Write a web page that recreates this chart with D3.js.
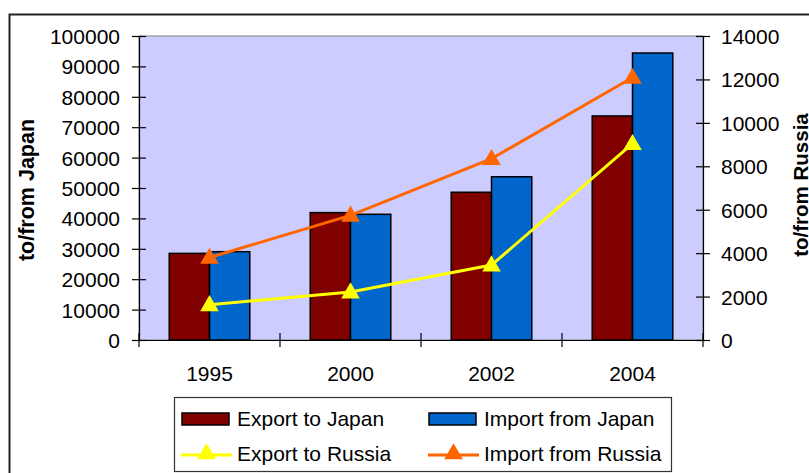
<!DOCTYPE html>
<html>
<head>
<meta charset="utf-8">
<script src="https://cdn.jsdelivr.net/npm/d3@7"></script>
<style>
  html, body { margin: 0; padding: 0; background: #fff; }
  svg { display: block; font-family: "Liberation Sans", Arial, sans-serif; }
</style>
</head>
<body>
<svg id="chart" width="809" height="473"></svg>
<script>
// Trade volumes by year: bars on the left axis (Japan), lines on the right axis (Russia)
const years = ["1995", "2000", "2002", "2004"];
const exportToJapan   = [28500, 41900, 48600, 73700];
const importFromJapan = [29050, 41350, 53700, 94400];
const exportToRussia  = [1620, 2210, 3450, 9040];
const importFromRussia = [3800, 5740, 8350, 12090];
const leftTicks  = [0, 10000, 20000, 30000, 40000, 50000, 60000, 70000, 80000, 90000, 100000];
const rightTicks = [0, 2000, 4000, 6000, 8000, 10000, 12000, 14000];

const svg = d3.select("#chart");
const plot = { left: 139, right: 703, top: 36, bottom: 340 };
const fontSize = 21;

const x = d3.scaleBand().domain(years).range([plot.left, plot.right]).paddingInner(0).paddingOuter(0);
const yL = d3.scaleLinear().domain([0, 100000]).range([plot.bottom, plot.top]);
const yR = d3.scaleLinear().domain([0, 14000]).range([plot.bottom, plot.top]);

// outer chart frame
svg.append("rect")
  .attr("x", 9.5).attr("y", 14.5).attr("width", 900).attr("height", 600)
  .attr("fill", "none").attr("stroke", "#222").attr("stroke-width", 2);

// plot area
svg.append("rect")
  .attr("x", plot.left).attr("y", plot.top)
  .attr("width", plot.right - plot.left).attr("height", plot.bottom - plot.top)
  .attr("fill", "#CCCCFF").attr("stroke", "#808080").attr("stroke-width", 1);

// bars
const barW = x.bandwidth() / 3.5;
const barSeries = [
  { values: exportToJapan, color: "#800000", offset: -1 },
  { values: importFromJapan, color: "#0066CC", offset: 0 }
];
barSeries.forEach(s => {
  svg.append("g").selectAll("rect").data(years).join("rect")
    .attr("x", d => x(d) + x.bandwidth() / 2 + s.offset * barW)
    .attr("y", (d, i) => yL(s.values[i]))
    .attr("width", barW)
    .attr("height", (d, i) => yL(0) - yL(s.values[i]))
    .attr("fill", s.color)
    .attr("stroke", "#000").attr("stroke-width", 1.5);
});

// axes
const tickStyle = g => {
  g.select(".domain").attr("stroke", "#000").attr("stroke-width", 1.2);
  g.selectAll(".tick line").attr("stroke", "#000").attr("stroke-width", 1.2);
  g.selectAll("text").attr("font-size", fontSize).attr("fill", "#000")
    .attr("font-family", "'Liberation Sans', Arial, sans-serif");
};

const leftAxis = svg.append("g").attr("transform", `translate(${plot.left},0)`)
  .call(d3.axisLeft(yL).tickValues(leftTicks).tickFormat(d3.format("d")).tickSizeOuter(0).tickSizeInner(7).tickPadding(12))
  .call(tickStyle);
leftAxis.selectAll(".tick").append("line").attr("x1", 0).attr("x2", 7).attr("stroke", "#000").attr("stroke-width", 1.2);
leftAxis.selectAll(".tick text").attr("dy", "0.36em");

const rightAxis = svg.append("g").attr("transform", `translate(${plot.right},0)`)
  .call(d3.axisRight(yR).tickValues(rightTicks).tickFormat(d3.format("d")).tickSizeOuter(0).tickSizeInner(7).tickPadding(11))
  .call(tickStyle);
rightAxis.selectAll(".tick").append("line").attr("x1", 0).attr("x2", -7).attr("stroke", "#000").attr("stroke-width", 1.2);
rightAxis.selectAll(".tick text").attr("dy", "0.36em");

// category axis with separators between bands
const bottomAxis = svg.append("g").attr("transform", `translate(0,${plot.bottom})`)
  .call(d3.axisBottom(x).tickSize(0).tickPadding(26))
  .call(tickStyle);
bottomAxis.selectAll(".tick text").attr("dy", "0.71em");
const seps = years.map(d => x(d)).concat([plot.right]);
svg.append("g").selectAll("line").data(seps).join("line")
  .attr("x1", d => d).attr("x2", d => d)
  .attr("y1", plot.bottom - 7).attr("y2", plot.bottom + 7)
  .attr("stroke", "#000").attr("stroke-width", 1.2);

// axis titles
svg.append("text")
  .attr("transform", `translate(34,190) rotate(-90)`)
  .attr("text-anchor", "middle").attr("font-size", 21.5).attr("font-weight", "bold")
  .text("to/from Japan");
svg.append("text")
  .attr("transform", `translate(808,185) rotate(-90)`)
  .attr("text-anchor", "middle").attr("font-size", 20.5).attr("font-weight", "bold")
  .text("to/from Russia");

// lines with triangle markers
const tri = d3.symbol().type(d3.symbolTriangle).size(150);
const lineSeries = [
  { values: exportToRussia, color: "#FFFF00" },
  { values: importFromRussia, color: "#FF6600" }
];
const cx = d => x(d) + x.bandwidth() / 2;
lineSeries.forEach(s => {
  const line = d3.line().x((d, i) => cx(years[i])).y(d => yR(d));
  svg.append("path").datum(s.values)
    .attr("d", line).attr("fill", "none")
    .attr("stroke", s.color).attr("stroke-width", 3);
  svg.append("g").selectAll("path").data(s.values).join("path")
    .attr("d", tri)
    .attr("transform", (d, i) => `translate(${cx(years[i])},${yR(d) + 1})`)
    .attr("fill", s.color);
});

// legend
const lg = svg.append("g");
lg.append("rect").attr("x", 174.5).attr("y", 397.5).attr("width", 497).attr("height", 74)
  .attr("fill", "#fff").attr("stroke", "#333").attr("stroke-width", 1.2);
const legendItems = [
  { label: "Export to Japan", color: "#800000", kind: "bar", col: 0, row: 0 },
  { label: "Import from Japan", color: "#0066CC", kind: "bar", col: 1, row: 0 },
  { label: "Export to Russia", color: "#FFFF00", kind: "line", col: 0, row: 1 },
  { label: "Import from Russia", color: "#FF6600", kind: "line", col: 1, row: 1 }
];
const colX = [181, 428];
const rowY = [419, 454];
legendItems.forEach(it => {
  const x0 = colX[it.col], yc = rowY[it.row];
  if (it.kind === "bar") {
    lg.append("rect").attr("x", x0 + 1).attr("y", yc - 6).attr("width", 47).attr("height", 12)
      .attr("fill", it.color).attr("stroke", "#000").attr("stroke-width", 1.5);
  } else {
    lg.append("line").attr("x1", x0).attr("x2", x0 + 51).attr("y1", yc + 1).attr("y2", yc + 1)
      .attr("stroke", it.color).attr("stroke-width", 3);
    lg.append("path").attr("d", tri).attr("transform", `translate(${x0 + 25.5},${yc})`).attr("fill", it.color);
  }
  lg.append("text").attr("x", x0 + 56).attr("y", yc + 7)
    .attr("font-size", fontSize).text(it.label);
});
</script>
</body>
</html>
